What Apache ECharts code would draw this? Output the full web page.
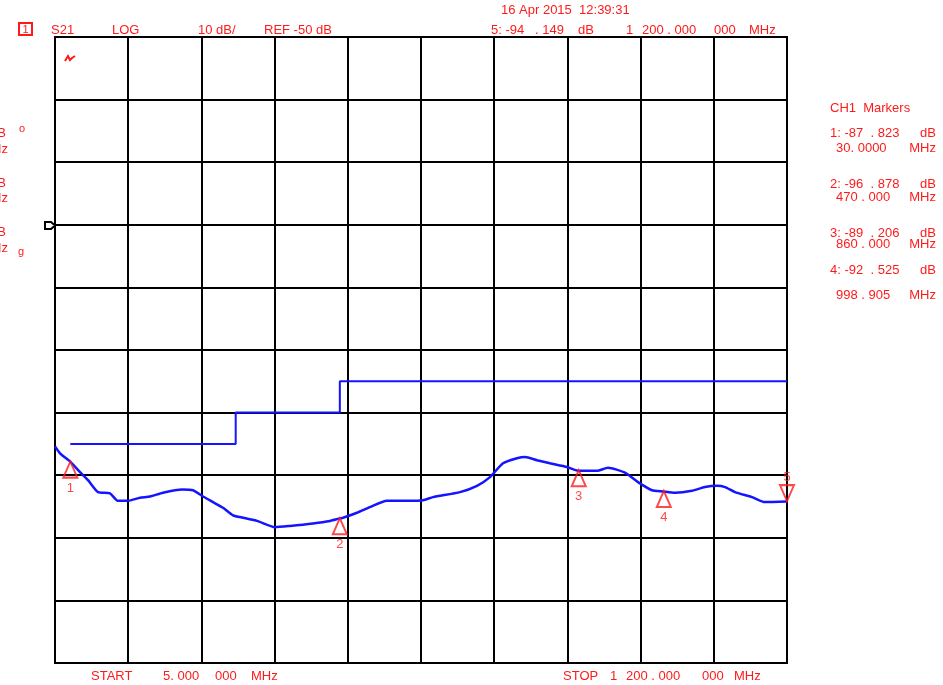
<!DOCTYPE html>
<html>
<head>
<meta charset="utf-8">
<script src="https://cdn.jsdelivr.net/npm/echarts@6/dist/echarts.min.js"></script>
<style>html,body{margin:0;padding:0;background:#fff;}#c{width:943px;height:685px;}</style>
</head>
<body>
<div id="c"></div>
<script>
// ---- data ----
const freqMHz = [5, 13.2, 29.5, 45.8, 58.9, 75.2, 94.8, 107.8, 124.1, 143.8, 160.1, 181.3, 212.3, 230.3, 246.6, 262.9, 279.3, 295.6, 311.9, 334.8, 364.2, 388.6, 426.2, 453.9, 470, 475.2, 498.0, 519.2, 547.0, 584.5, 605.8, 622.1, 666.2, 693.9, 715.1, 736.4, 759.2, 772.3, 791.9, 813.1, 840.8, 858.8, 889.8, 907.8, 935.5, 956.7, 979.6, 997.5, 1017.2, 1044.9, 1066.1, 1085.7, 1098.8, 1115.1, 1142.8, 1164.1, 1200];
const traceDb = [-85.4, -86.5, -87.8, -89.5, -90.8, -92.7, -92.9, -94.1, -94.1, -93.6, -93.4, -92.8, -92.3, -92.4, -93.4, -94.3, -95.2, -96.4, -96.8, -97.3, -98.3, -98.1, -97.7, -97.3, -96.9, -96.8, -96.0, -95.1, -94.1, -94.1, -94.0, -93.5, -92.7, -91.7, -90.3, -88.1, -87.3, -87.1, -87.6, -88.1, -88.7, -89.3, -89.3, -88.8, -89.6, -91.1, -92.4, -92.6, -92.8, -92.5, -91.9, -91.7, -91.9, -92.7, -93.5, -94.3, -94.2];
const limitFreq = [30, 300, 300, 470, 470, 1200];
const limitDb = [-85, -85, -80, -80, -75, -75];
const markerFreq = [30, 470, 860, 998.905, 1200];
const markerDb = [-87.823, -96.878, -89.206, -92.525, -94.149];
const markerNames = ['1', '2', '3', '4', '5'];
const startMHz = 5, stopMHz = 1200;
const refDb = -50, dbPerDiv = 10;
const yMin = -120, yMax = -20;

const RED = '#ff1a1a';
const BLUE = '#1414ff';
const F = 'Liberation Sans, Arial, sans-serif';

const chart = echarts.init(document.getElementById('c'), null, {renderer: 'canvas'});

function txt(x, y, s, align, size) {
  return {type: 'text', x: x, y: y, silent: true,
    style: {text: s, fill: RED, font: (size || 13) + 'px ' + F, textAlign: align || 'left', textVerticalAlign: 'middle'}};
}

const graphics = [
  {type: 'rect', shape: {x: 19, y: 23, width: 13, height: 12}, style: {fill: 'none', stroke: RED, lineWidth: 2}},
  txt(25.5, 29.5, '1', 'center', 11),
  txt(51, 30, 'S21'),
  txt(112, 30, 'LOG'),
  txt(198, 30, '10 dB/'),
  txt(264, 30, 'REF -50 dB'),
  txt(501, 10, '16 Apr 2015  12:39:31'),
  txt(491, 30, '5: -94'),
  txt(535, 30, '. 149'),
  txt(578, 30, 'dB'),
  txt(626, 30, '1'),
  txt(642, 30, '200 . 000'),
  txt(714, 30, '000'),
  txt(749, 30, 'MHz'),
  txt(830, 108, 'CH1  Markers'),
  txt(830, 133, '1: -87  . 823'), txt(936, 133, 'dB', 'right'),
  txt(836, 148, '30. 0000'), txt(936, 148, 'MHz', 'right'),
  txt(830, 184, '2: -96  . 878'), txt(936, 184, 'dB', 'right'),
  txt(836, 197, '470 . 000'), txt(936, 197, 'MHz', 'right'),
  txt(830, 233, '3: -89  . 206'), txt(936, 233, 'dB', 'right'),
  txt(836, 244, '860 . 000'), txt(936, 244, 'MHz', 'right'),
  txt(830, 270, '4: -92  . 525'), txt(936, 270, 'dB', 'right'),
  txt(836, 295, '998 . 905'), txt(936, 295, 'MHz', 'right'),
  txt(6, 133, 'dB', 'right'), txt(8, 149, 'MHz', 'right'),
  txt(6, 183, 'dB', 'right'), txt(8, 198, 'MHz', 'right'),
  txt(6, 232, 'dB', 'right'), txt(8, 248, 'MHz', 'right'),
  txt(22, 129, 'o', 'center', 11),
  txt(21, 252, 'g', 'center', 11),
  txt(91, 676, 'START'),
  txt(163, 676, '5. 000'),
  txt(215, 676, '000'),
  txt(251, 676, 'MHz'),
  txt(563, 676, 'STOP'),
  txt(610, 676, '1'),
  txt(626, 676, '200 . 000'),
  txt(702, 676, '000'),
  txt(734, 676, 'MHz'),
  {type: 'polygon', shape: {points: [[45, 222], [51, 222], [55, 225.5], [51, 229], [45, 229]]}, style: {fill: 'none', stroke: '#000', lineWidth: 2}},
  {type: 'polyline', shape: {points: [[65, 61], [68, 56], [70, 60], [72, 58], [75, 56]]}, style: {fill: 'none', stroke: RED, lineWidth: 2}}
];

const markerData = markerFreq.map((f, i) => {
  const down = i === 4;
  return {
    value: [f, markerDb[i]],
    name: markerNames[i],
    symbolRotate: down ? 180 : 0,
    symbolOffset: [0, down ? -8 : 8],
    label: {position: down ? 'top' : 'bottom', offset: [0, down ? 0 : 3]}
  };
});

chart.setOption({
  animation: false,
  backgroundColor: '#fff',
  grid: {left: 55, right: 156, top: 37, bottom: 22, show: true, borderColor: '#000', borderWidth: 2, backgroundColor: '#fff'},
  xAxis: [
    {type: 'value', min: startMHz, max: stopMHz, show: false, splitLine: {show: false}},
    {type: 'value', min: 0, max: 10, interval: 1, position: 'bottom',
      axisLine: {show: true, lineStyle: {color: '#000', width: 2}}, axisTick: {show: false}, axisLabel: {show: false},
      splitLine: {show: true, lineStyle: {color: '#000', width: 2}}}
  ],
  yAxis: {type: 'value', min: yMin, max: yMax, interval: dbPerDiv,
    axisLine: {show: true, lineStyle: {color: '#000', width: 2}}, axisTick: {show: false}, axisLabel: {show: false},
    splitLine: {show: true, lineStyle: {color: '#000', width: 2}}},
  graphic: graphics,
  series: [
    {type: 'line', xAxisIndex: 0, data: limitFreq.map((f, i) => [f, limitDb[i]]), showSymbol: false,
      lineStyle: {color: BLUE, width: 2}, z: 3},
    {type: 'line', xAxisIndex: 0, data: freqMHz.map((f, i) => [f, traceDb[i]]), showSymbol: false, smooth: 0.2,
      lineStyle: {color: BLUE, width: 2.5}, z: 4},
    {type: 'scatter', xAxisIndex: 0, data: markerData, symbol: 'triangle', symbolSize: [14, 16],
      itemStyle: {color: 'rgba(255,255,255,0)', borderColor: RED, borderWidth: 2},
      label: {show: true, formatter: p => p.name, color: RED, fontSize: 13, fontFamily: F, distance: 0},
      z: 5}
  ]
});
</script>
</body>
</html>
